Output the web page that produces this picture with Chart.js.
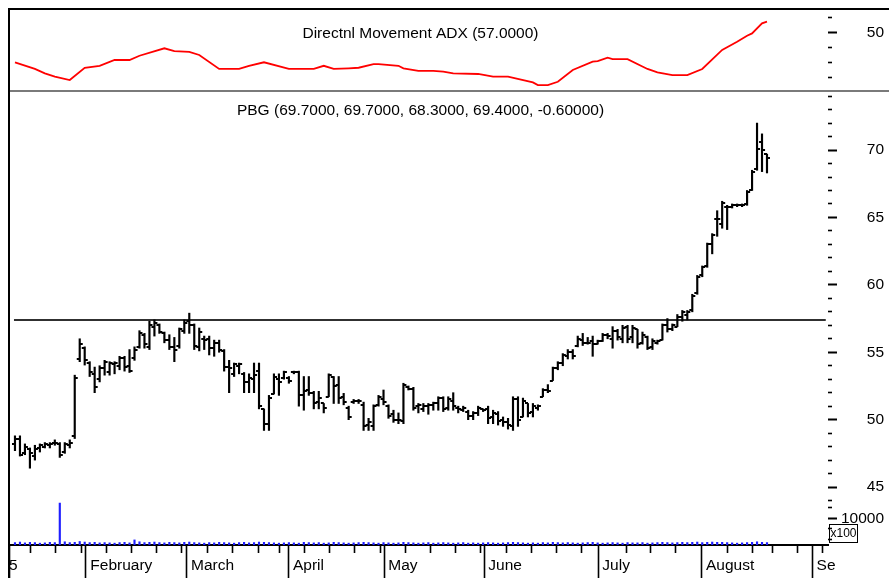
<!DOCTYPE html>
<html>
<head>
<meta charset="utf-8">
<script src="https://cdn.jsdelivr.net/npm/chart.js@4.4.1/dist/chart.umd.min.js"></script>
<style>
  html, body { margin: 0; padding: 0; background: #fff; }
  #wrap { width: 889px; height: 578px; }
</style>
</head>
<body>
<div id="wrap"><canvas id="chart" width="889" height="578"></canvas></div>
<script>
// daily OHLC, one entry per trading day (index 0 = first bar)
const opens = [
  48.2, 48.6, 47.5, 47.8, 47.3, 47.9, 48.0, 48.1, 48.3, 48.2, 47.6, 48.1, 48.8, 54.5, 55.3, 54.2, 53.4, 53.0, 53.8, 53.5,
  54.1, 54.0, 54.6, 54.0, 54.6, 55.4, 56.3, 55.4, 56.9, 57.0, 56.4, 55.9, 55.4, 55.5, 56.6, 57.3, 57.0, 55.4, 56.0, 56.0,
  55.3, 55.7, 55.1, 53.9, 53.4, 54.0, 53.4, 52.8, 53.0, 53.6, 50.8, 49.7, 51.9, 53.0, 53.1, 53.1, 53.5, 53.5, 51.8, 52.2,
  52.0, 51.3, 51.2, 51.7, 53.2, 52.6, 51.7, 50.9, 51.3, 51.4, 51.1, 49.6, 49.5, 51.1, 51.5, 51.0, 50.4, 50.0, 49.9, 52.4,
  52.3, 51.0, 50.8, 51.0, 51.1, 51.2, 51.6, 50.9, 51.4, 50.9, 50.7, 50.6, 50.3, 50.5, 50.8, 50.8, 50.2, 50.4, 50.0, 49.8,
  49.5, 51.5, 50.2, 51.2, 50.6, 50.9, 51.7, 52.2, 52.9, 53.8, 54.2, 54.7, 55.0, 55.5, 55.9, 55.7, 55.8, 55.6, 55.8, 56.3,
  56.0, 56.6, 56.0, 56.9, 56.1, 56.7, 55.7, 56.1, 55.4, 55.7, 55.9, 57.0, 56.7, 56.9, 57.6, 57.8, 58.1, 59.4, 60.7, 61.4,
  63.0, 64.9, 64.5, 65.8, 65.8, 65.9, 65.9, 66.0, 67.0, 68.6, 70.6, 69.7
];
const highs = [
  48.8, 48.8, 48.2, 47.9, 48.1, 48.2, 48.3, 48.3, 48.5, 48.3, 48.3, 48.5, 53.3, 56.0, 55.4, 54.3, 53.9, 54.0, 54.4, 54.3,
  54.3, 54.7, 54.7, 55.2, 55.4, 56.6, 56.4, 57.3, 57.4, 57.1, 56.5, 56.3, 56.1, 56.8, 57.4, 57.9, 57.1, 56.8, 56.2, 56.2,
  55.9, 55.9, 55.2, 54.4, 54.2, 54.2, 53.5, 53.4, 54.2, 54.2, 50.8, 51.8, 53.4, 53.4, 53.6, 53.2, 53.6, 53.6, 53.2, 53.2,
  52.1, 52.1, 51.2, 53.4, 53.2, 53.2, 51.95, 51.0, 51.5, 51.5, 51.3, 50.1, 51.1, 51.8, 52.2, 51.1, 50.7, 50.5, 52.7, 52.5,
  52.4, 51.2, 51.2, 51.2, 51.3, 51.7, 51.7, 51.7, 52.0, 51.0, 51.0, 50.7, 50.6, 51.0, 50.8, 51.0, 50.7, 50.6, 50.2, 50.1,
  51.7, 51.7, 51.6, 51.2, 51.2, 51.1, 52.3, 52.6, 53.9, 54.3, 54.9, 55.2, 55.2, 56.2, 56.4, 56.1, 56.2, 55.9, 56.4, 56.4,
  56.9, 56.7, 57.0, 57.0, 57.0, 56.7, 56.5, 56.2, 56.0, 55.9, 57.1, 57.5, 57.1, 57.8, 58.1, 58.1, 59.3, 60.7, 61.4, 63.1,
  63.8, 65.5, 66.2, 65.9, 66.0, 66.0, 66.0, 67.0, 68.5, 72.0, 71.2, 69.7
];
const lows = [
  47.7, 47.3, 47.4, 46.4, 47.0, 47.6, 47.9, 47.9, 48.1, 47.2, 47.5, 47.9, 48.6, 54.3, 54.05, 53.2, 52.0, 52.8, 53.3, 53.3,
  53.4, 53.7, 53.6, 53.5, 54.4, 55.3, 55.3, 55.2, 56.2, 56.4, 55.7, 55.2, 54.3, 55.3, 56.4, 56.4, 55.2, 55.1, 55.2, 54.8,
  54.7, 55.0, 53.6, 52.0, 53.2, 53.4, 52.0, 52.0, 52.0, 50.8, 49.2, 49.2, 51.9, 51.8, 53.0, 52.7, 53.4, 51.0, 50.7, 51.8,
  50.8, 50.8, 50.5, 51.7, 51.2, 51.2, 51.1, 50.0, 51.2, 51.2, 49.2, 49.2, 49.2, 51.0, 51.1, 50.1, 49.8, 49.7, 49.7, 52.2,
  50.7, 50.5, 50.6, 50.4, 50.7, 50.7, 50.6, 50.7, 50.7, 50.5, 50.6, 50.0, 50.0, 50.3, 50.6, 49.7, 49.7, 49.6, 49.5, 49.3,
  49.2, 49.5, 50.2, 50.2, 50.2, 50.7, 51.7, 52.0, 52.9, 53.7, 54.0, 54.5, 54.5, 55.4, 55.5, 55.6, 54.7, 55.6, 55.8, 56.0,
  55.3, 55.9, 55.7, 55.7, 55.7, 55.3, 55.6, 55.2, 55.2, 55.6, 55.9, 56.5, 56.6, 56.9, 57.3, 57.4, 58.0, 59.3, 60.6, 61.3,
  62.3, 63.6, 64.2, 64.1, 65.7, 65.8, 65.8, 65.9, 67.0, 68.5, 68.4, 68.3
];
const closes = [
  48.6, 47.4, 48.0, 47.5, 47.8, 48.1, 48.2, 48.2, 48.3, 47.4, 48.2, 48.3, 53.1, 55.6, 54.4, 53.5, 52.4, 53.8, 54.3, 54.2,
  54.2, 54.6, 53.9, 53.6, 55.2, 56.4, 55.6, 57.0, 57.2, 56.5, 55.9, 55.4, 55.2, 56.7, 57.2, 57.0, 55.5, 56.5, 55.9, 55.3,
  55.7, 55.2, 53.9, 53.8, 54.1, 54.1, 52.8, 53.1, 53.3, 51.0, 49.7, 51.6, 53.2, 52.8, 53.5, 52.9, 53.5, 51.8, 52.1, 52.0,
  51.2, 51.6, 50.9, 53.3, 52.5, 51.6, 51.3, 50.2, 51.4, 51.4, 49.5, 49.8, 51.0, 51.7, 51.3, 50.3, 50.0, 50.0, 52.6, 52.3,
  50.9, 51.1, 51.0, 51.1, 51.2, 51.6, 50.8, 51.5, 51.0, 50.8, 50.9, 50.3, 50.5, 50.9, 50.7, 50.1, 50.5, 49.9, 49.8, 49.6,
  51.5, 50.0, 51.4, 50.5, 51.0, 51.0, 52.2, 52.1, 53.8, 54.2, 54.8, 55.0, 54.7, 56.0, 55.7, 55.7, 55.6, 55.8, 56.3, 56.2,
  56.6, 56.1, 56.8, 56.0, 56.8, 55.6, 56.3, 55.3, 55.8, 55.8, 57.0, 56.7, 57.0, 57.6, 58.0, 58.0, 59.2, 60.6, 61.3, 63.0,
  63.7, 64.9, 66.1, 65.8, 65.9, 65.9, 65.9, 66.9, 68.4, 70.1, 70.0, 69.4
];
// volume in hundreds of shares
const volumes = [
  900, 1100, 800, 1000, 900, 700, 800, 1000, 900, 15700, 1200, 900, 1000, 1300, 1100, 900, 1000, 800, 900, 800,
  700, 900, 1000, 800, 1900, 1200, 900, 1000, 1100, 900, 800, 1000, 900, 800, 1000, 1100, 900, 800, 700, 900,
  800, 1000, 900, 800, 700, 900, 1000, 800, 900, 1100, 1000, 900, 800, 700, 800, 900, 800, 700, 1000, 900,
  800, 900, 700, 800, 1000, 900, 800, 700, 800, 900, 1000, 900, 800, 700, 900, 800, 700, 800, 1000, 900,
  800, 700, 800, 900, 700, 800, 900, 800, 700, 800, 900, 700, 800, 700, 800, 900, 800, 700, 800, 900,
  1000, 900, 800, 700, 800, 700, 900, 800, 1000, 900, 800, 900, 800, 700, 800, 900, 1000, 800, 700, 800,
  900, 800, 700, 900, 800, 800, 900, 700, 800, 900, 1000, 900, 800, 900, 1000, 900, 1000, 1100, 900, 1000,
  1100, 1000, 1000, 900, 800, 700, 800, 900, 1000, 1200, 1000, 900
];
// ADX
const adxDays = [0, 4, 6, 8, 11, 14, 17, 20, 23, 25, 30, 32, 35, 37, 41, 45, 47, 50, 55, 60, 62, 64, 67, 69, 72, 73, 77, 78,
  81, 84, 86, 88, 93, 96, 99, 104, 105, 107, 109, 112, 116, 117, 119, 120, 123, 127, 129, 132, 135, 138, 142, 145, 147, 148, 150, 151];
const adxValues = [30.3, 25.9, 23.0, 20.8, 18.6, 26.7, 28.0, 31.8, 31.8, 34.6, 39.5, 37.7, 37.2, 35.1, 25.9, 25.9, 28.0, 30.3,
  25.9, 25.9, 28.0, 25.9, 26.3, 26.7, 29.1, 29.1, 28.0, 26.3, 24.7, 24.7, 24.1, 23.0, 22.6, 20.8, 20.8, 17.1, 15.3, 15.3, 17.5,
  25.2, 30.7, 31.1, 33.3, 32.4, 32.4, 25.9, 23.7, 21.9, 21.9, 25.9, 38.4, 43.8, 47.8, 49.3, 55.9, 57.0];
const resistanceLevel = 57.4;

// x axis: month starts and week marks (in bar index units)
const monthTicks = [-1.2, 14.26, 34.48, 54.96, 74.1, 94.18, 117.07, 137.89, 160.1];
const monthLabels = ["5", " February", " March", " April", " May", " June", " July", " August", " Se"];
const weekTicks = [3.15, 8.23, 13.39, 18.41, 23.43, 28.45, 33.47, 38.61, 43.71, 48.86, 53.07, 58.13, 63.19, 68.25, 73.31,
  78.37, 83.43, 88.49, 93.55, 98.61, 103.67, 108.73, 113.79, 122.8, 127.6, 132.7, 143.0, 148.1, 152.1, 157.1, 162.2];

const priceTicks = [];
for (let v = 44; v <= 74; v++) priceTicks.push(v);
const adxTicks = [20, 30, 40, 50, 60];
const volTicks = [2000, 6000, 10000, 14000];

const adxTitle = "Directnl Movement ADX (57.0000)";
const priceTitle = "PBG (69.7000, 69.7000, 68.3000, 69.4000, -0.60000)";

const FONT = "'Liberation Sans', Arial, sans-serif";
Chart.defaults.font.family = FONT;
Chart.defaults.font.size = 15.5;
Chart.defaults.color = "#000";

const days = opens.map((_, i) => i);
const monthMap = new Map(monthTicks.map((v, i) => [v, monthLabels[i]]));

function tickImage(side) {
  const c = document.createElement("canvas");
  c.width = 8;
  c.height = 2;
  const g = c.getContext("2d");
  g.fillStyle = "#000";
  g.fillRect(side === "left" ? 1 : 4, 0, 3, 2);
  return c;
}

function rightAxis(ticksList, labelled, major, extra) {
  return Object.assign({
    type: "linear",
    position: "right",
    stack: "panels",
    afterBuildTicks: (s) => { s.ticks = ticksList.map((v) => ({ value: v })); },
    afterFit: (s) => {
      s.width = 56;
      s.paddingTop = 0;
      s.paddingBottom = 0;
    },
    border: { display: false },
    grid: {
      drawOnChartArea: false,
      tickLength: 9,
      tickColor: "#000",
      tickWidth: (c) => (major(c.tick.value) ? 2 : 1.6),
      tickBorderDash: (c) => (major(c.tick.value) ? [] : [4, 20]),
    },
    ticks: {
      autoSkip: false,
      crossAlign: "far",
      color: "#000",
      callback: (v) => (labelled.includes(v) ? String(v) : ""),
    },
  }, extra);
}

const frame = {
  id: "frame",
  afterDraw(chart) {
    const { ctx, chartArea, scales, width, height } = chart;
    ctx.save();
    ctx.fillStyle = "#000";
    ctx.font = "15.5px " + FONT;
    ctx.textAlign = "center";
    ctx.textBaseline = "middle";
    const cx = (chartArea.left + chartArea.right) / 2 + 2;
    ctx.fillText(adxTitle, cx, scales.adx.top + 24);
    ctx.fillText(priceTitle, cx, scales.price.top + 20);

    // panel separator
    ctx.strokeStyle = "#7a7a7a";
    ctx.lineWidth = 2;
    ctx.beginPath();
    ctx.moveTo(chartArea.left, scales.price.top);
    ctx.lineTo(width, scales.price.top);
    ctx.stroke();

    // outer frame: top and left
    ctx.strokeStyle = "#000";
    ctx.beginPath();
    ctx.moveTo(chartArea.left - 1, chartArea.top - 1);
    ctx.lineTo(width, chartArea.top - 1);
    ctx.moveTo(chartArea.left, chartArea.top - 1);
    ctx.lineTo(chartArea.left, height);
    ctx.stroke();

    // volume multiplier box
    ctx.lineWidth = 1;
    ctx.strokeRect(chartArea.right + 1.5, chartArea.bottom - 20.5, 28, 18);
    ctx.font = "12px " + FONT;
    ctx.fillText("x100", chartArea.right + 15.5, chartArea.bottom - 11);
    ctx.restore();
  },
};

new Chart(document.getElementById("chart"), {
  type: "bar",
  data: {
    datasets: [
      {
        type: "scatter",
        data: days.map((i) => ({ x: i, y: opens[i] })),
        yAxisID: "price",
        pointStyle: tickImage("left"),
        pointRadius: 2,
        pointHoverRadius: 2,
      },
      {
        type: "scatter",
        data: days.map((i) => ({ x: i, y: closes[i] })),
        yAxisID: "price",
        pointStyle: tickImage("right"),
        pointRadius: 2,
        pointHoverRadius: 2,
      },
      {
        type: "bar",
        data: days.map((i) => ({ x: i, y: [lows[i], highs[i]] })),
        yAxisID: "price",
        backgroundColor: "#000",
        barThickness: 1.5,
        grouped: false,
      },
      {
        type: "line",
        data: [{ x: -0.2, y: resistanceLevel }, { x: 162.8, y: resistanceLevel }],
        yAxisID: "price",
        borderColor: "#303030",
        borderWidth: 2,
        pointRadius: 0,
      },
      {
        type: "line",
        data: adxDays.map((d, i) => ({ x: d, y: adxValues[i] })),
        yAxisID: "adx",
        borderColor: "#ff0000",
        borderWidth: 1.8,
        pointRadius: 0,
        tension: 0,
      },
      {
        type: "bar",
        data: days.map((i) => ({ x: i, y: volumes[i] })),
        yAxisID: "vol",
        backgroundColor: "#1f1fff",
        barThickness: 1.5,
        grouped: false,
      },
    ],
  },
  options: {
    responsive: false,
    animation: false,
    events: [],
    layout: { padding: { left: 9, top: 10, right: 5, bottom: 0 } },
    plugins: { legend: { display: false }, tooltip: { enabled: false } },
    scales: {
      x: {
        type: "linear",
        min: -1.2,
        max: 163.25,
        offset: false,
        afterBuildTicks: (s) => {
          s.ticks = [...monthTicks, ...weekTicks].sort((a, b) => a - b).map((v) => ({ value: v }));
        },
        afterFit: (s) => {
          s.height = 33;
          s.paddingLeft = 0;
          s.paddingRight = 0;
        },
        border: { display: true, color: "#000", width: 2 },
        grid: {
          drawOnChartArea: false,
          offset: false,
          tickLength: 33,
          tickColor: "#000",
          tickWidth: 1.6,
          tickBorderDash: (c) => (monthMap.has(c.tick.value) ? [] : [7, 60]),
        },
        ticks: {
          autoSkip: false,
          maxRotation: 0,
          align: "start",
          padding: -22,
          color: "#000",
          callback: (v) => monthMap.get(v) || "",
        },
      },
      adx: rightAxis(adxTicks, [50], (v) => v === 50, { min: 11.4, max: 64.7, stackWeight: 81 }),
      price: rightAxis(priceTicks, [45, 50, 55, 60, 65, 70], (v) => v % 5 === 0, { min: 44.04, max: 74.38, stackWeight: 409 }),
      vol: rightAxis(volTicks, [10000], (v) => v === 10000, { min: 0, max: 16850, stackWeight: 45 }),
    },
  },
  plugins: [frame],
});
</script>
</body>
</html>
